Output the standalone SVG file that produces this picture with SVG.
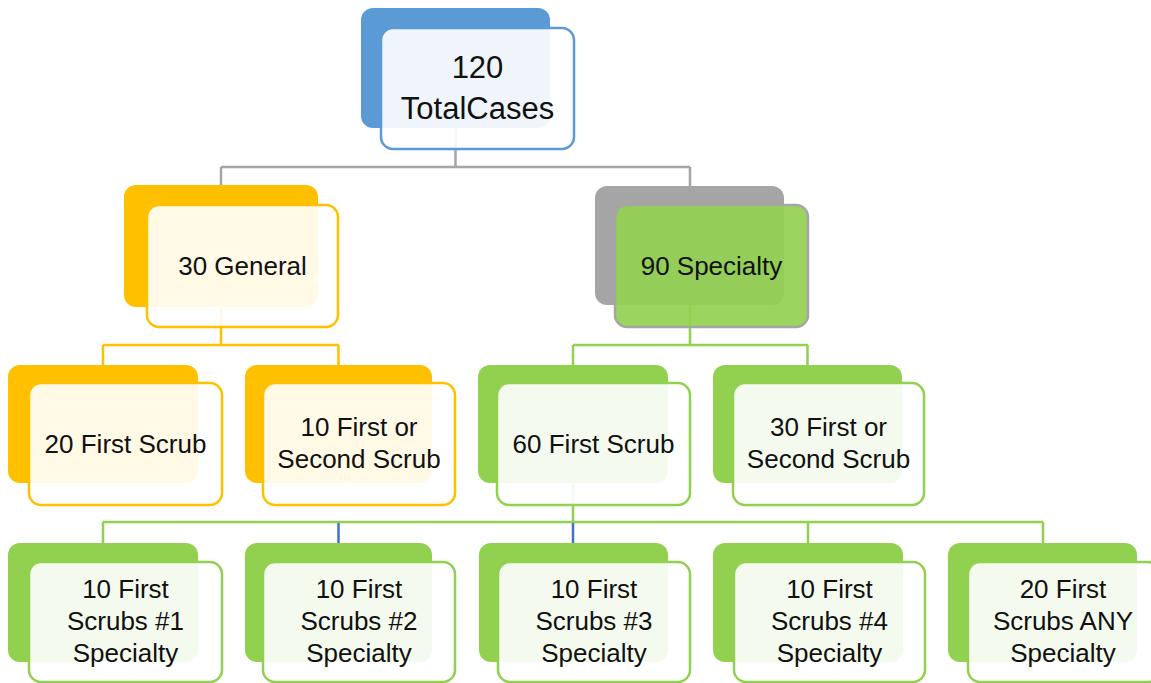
<svg xmlns="http://www.w3.org/2000/svg" width="1151" height="683" viewBox="0 0 1151 683">
<style>
.bk{stroke:none}
.fr{fill:#ffffff;fill-opacity:0.9;stroke-width:2.5}
.t{font-family:"Liberation Sans",Arial,sans-serif;font-size:26px;fill:#111111;text-anchor:middle}
.tr{font-family:"Liberation Sans",Arial,sans-serif;font-size:31px;fill:#111111;text-anchor:middle}
.c{fill:none;stroke-width:2.5}
</style>
<rect width="1151" height="683" fill="#ffffff"/>
<g id="connectors">
  <path class="c" stroke="#A5A5A5" d="M455.5,128 V167 M221,167 H690 M221,167 V185 M690,167 V186"/>
  <path class="c" stroke="#FFC000" d="M221,307 V345 M103,345 H339 M103,345 V365 M338.5,345 V365"/>
  <path class="c" stroke="#92D050" d="M690,305 V345 M573,345 H808 M573,345 V365 M807.5,345 V365"/>
  <path class="c" stroke="#92D050" d="M573,483 V522 M103,522 H1043 M103,522 V543 M808,522 V543 M1043,522 V543"/>
  <path class="c" stroke="#4472C4" d="M338.5,523 V543 M573,523 V543"/>
</g>
<g id="n-root">
  <rect class="bk" x="361" y="8" width="189" height="120" rx="12" fill="#5B9BD5"/>
  <rect class="fr" x="381" y="28" width="193" height="121" rx="12" stroke="#5B9BD5"/>
  <text class="tr" x="477.5" y="78">120</text>
  <text class="tr" x="477.5" y="119">TotalCases</text>
</g>
<g id="n-general">
  <rect class="bk" x="124" y="185" width="194" height="122" rx="12" fill="#FFC000"/>
  <rect class="fr" x="147" y="205" width="191" height="122" rx="12" stroke="#FFC000"/>
  <text class="t" x="242.5" y="275">30 General</text>
</g>
<g id="n-specialty">
  <rect class="bk" x="595" y="186" width="189" height="119" rx="12" fill="#A5A5A5"/>
  <rect x="615" y="205" width="193" height="122" rx="12" fill="#92D050" fill-opacity="0.92" stroke="#A5A5A5" stroke-width="2.5"/>
  <text class="t" x="711.5" y="275">90 Specialty</text>
</g>
<g id="n-g1">
  <rect class="bk" x="8" y="365" width="190" height="118" rx="12" fill="#FFC000"/>
  <rect class="fr" x="29" y="383" width="193" height="122" rx="12" stroke="#FFC000"/>
  <text class="t" x="125.5" y="453">20 First Scrub</text>
</g>
<g id="n-g2">
  <rect class="bk" x="245" y="365" width="187" height="118" rx="12" fill="#FFC000"/>
  <rect class="fr" x="263" y="383" width="192" height="122" rx="12" stroke="#FFC000"/>
  <text class="t" x="359" y="436">10 First or</text>
  <text class="t" x="359" y="468">Second Scrub</text>
</g>
<g id="n-s1">
  <rect class="bk" x="478" y="365" width="190" height="118" rx="12" fill="#92D050"/>
  <rect class="fr" x="497" y="383" width="193" height="122" rx="12" stroke="#92D050"/>
  <text class="t" x="593.5" y="453">60 First Scrub</text>
</g>
<g id="n-s2">
  <rect class="bk" x="713" y="365" width="189" height="118" rx="12" fill="#92D050"/>
  <rect class="fr" x="733" y="383" width="191" height="122" rx="12" stroke="#92D050"/>
  <text class="t" x="828.5" y="436">30 First or</text>
  <text class="t" x="828.5" y="468">Second Scrub</text>
</g>
<g id="n-l1">
  <rect class="bk" x="8" y="543" width="190" height="119" rx="12" fill="#92D050"/>
  <rect class="fr" x="29" y="562" width="193" height="120" rx="12" stroke="#92D050"/>
  <text class="t" x="125.5" y="598">10 First</text>
  <text class="t" x="125.5" y="630">Scrubs #1</text>
  <text class="t" x="125.5" y="662">Specialty</text>
</g>
<g id="n-l2">
  <rect class="bk" x="245" y="543" width="187" height="119" rx="12" fill="#92D050"/>
  <rect class="fr" x="263" y="562" width="192" height="120" rx="12" stroke="#92D050"/>
  <text class="t" x="359" y="598">10 First</text>
  <text class="t" x="359" y="630">Scrubs #2</text>
  <text class="t" x="359" y="662">Specialty</text>
</g>
<g id="n-l3">
  <rect class="bk" x="479" y="543" width="189" height="119" rx="12" fill="#92D050"/>
  <rect class="fr" x="498" y="562" width="192" height="120" rx="12" stroke="#92D050"/>
  <text class="t" x="594" y="598">10 First</text>
  <text class="t" x="594" y="630">Scrubs #3</text>
  <text class="t" x="594" y="662">Specialty</text>
</g>
<g id="n-l4">
  <rect class="bk" x="713" y="543" width="190" height="119" rx="12" fill="#92D050"/>
  <rect class="fr" x="734" y="562" width="191" height="120" rx="12" stroke="#92D050"/>
  <text class="t" x="829.5" y="598">10 First</text>
  <text class="t" x="829.5" y="630">Scrubs #4</text>
  <text class="t" x="829.5" y="662">Specialty</text>
</g>
<g id="n-l5">
  <rect class="bk" x="948" y="543" width="189" height="119" rx="12" fill="#92D050"/>
  <rect class="fr" x="968" y="562" width="192" height="120" rx="12" stroke="#92D050"/>
  <text class="t" x="1063" y="598">20 First</text>
  <text class="t" x="1063" y="630">Scrubs ANY</text>
  <text class="t" x="1063" y="662">Specialty</text>
</g>
</svg>
